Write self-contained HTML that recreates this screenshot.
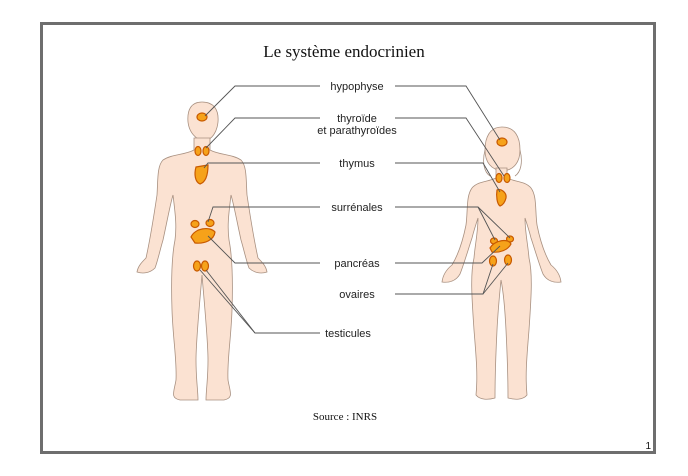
<!DOCTYPE html>
<html><head><meta charset="utf-8"><style>
html,body{margin:0;padding:0;background:#fff;}
svg{display:block;}
</style></head><body>
<svg width="688" height="476" viewBox="0 0 688 476" xmlns="http://www.w3.org/2000/svg">
<rect x="0" y="0" width="688" height="476" fill="#fff"/>
<rect x="41.5" y="23.5" width="613" height="429" fill="#fff" stroke="#6e6e6e" stroke-width="3"/>
<text x="344" y="57" font-family="Liberation Serif, serif" font-size="17" text-anchor="middle" fill="#111">Le système endocrinien</text>

<g fill="#fbe2d2" stroke="#a89080" stroke-width="0.8">
<!-- male -->
<path d="M202,102 C214,102 219,110 218,122 C217,132 212,140 204,141 C196,140 189,132 188,122 C187,110 191,102 202,102 Z"/>
<path d="M194,138 L194,150 C185,155 172,154 163,160 C157,166 158,180 157,195 C154,215 150,240 146,258 C142,262 138,266 137,272 C143,274 150,273 155,268 C158,260 160,250 163,240 C167,222 170,205 173,195 C175,212 177,225 175,240 C172,255 171,280 172,310 C173,340 177,360 176,380 C174,392 170,398 180,400 L198,400 C198,390 196,380 196,360 C196,340 200,300 202,275 C204,300 208,340 208,360 C208,380 206,390 206,400 L224,400 C234,398 230,392 228,380 C227,360 231,340 232,310 C233,280 232,255 229,240 C227,225 229,212 231,195 C234,205 237,222 241,240 C244,250 246,260 249,268 C254,273 261,274 267,272 C266,266 262,262 258,258 C254,240 250,215 247,195 C246,180 247,166 241,160 C232,154 219,155 210,150 L210,138 Z"/>
<!-- female -->
<path d="M502,127 C515,127 520,137 520,150 C520,162 514,170 503,171 C491,170 485,162 485,150 C485,137 490,127 502,127 Z"/>
<path d="M496,168 L496,178 C488,182 478,181 472,188 C466,196 468,210 466,225 C463,240 458,255 452,265 C447,269 443,274 442,282 C449,283 456,281 460,274 C464,264 468,250 472,238 C474,230 476,224 478,218 C478,232 475,245 474,258 C470,275 472,300 474,330 C476,355 478,375 476,395 C480,400 488,400 495,398 C495,380 496,350 497,330 C498,310 500,290 501,280 C503,290 505,310 506,330 C507,350 508,380 508,398 C515,400 523,400 527,395 C525,375 527,355 529,330 C531,300 533,275 529,258 C528,245 525,232 525,218 C527,224 529,230 531,238 C535,250 539,264 543,274 C547,281 554,283 561,282 C560,274 556,269 551,265 C545,255 540,240 537,225 C535,210 537,196 531,188 C525,181 515,182 507,178 L507,168 Z"/>
<path d="M485,150 C482,162 484,172 490,176 M520,150 C523,162 521,172 515,176" fill="none"/>
</g>

<g fill="#f6a21a" stroke="#c85a00" stroke-width="1.2">
<ellipse cx="202" cy="117" rx="5" ry="4"/>
<ellipse cx="198" cy="151" rx="3" ry="4.5"/><ellipse cx="206" cy="151" rx="3" ry="4.5"/>
<path d="M196,167 L208,165 C208,175 206,182 200,184 C195,182 194,174 196,167 Z"/>
<ellipse cx="195" cy="224" rx="4" ry="3.5"/><ellipse cx="210" cy="223" rx="4" ry="3.5"/>
<path d="M191,237 C195,228 210,226 215,232 C214,240 205,244 195,243 Z"/>
<ellipse cx="197" cy="266" rx="3.5" ry="5"/><ellipse cx="205" cy="266" rx="3.5" ry="5"/>
<ellipse cx="502" cy="142" rx="5" ry="4"/>
<ellipse cx="499" cy="178" rx="3" ry="4.5"/><ellipse cx="507" cy="178" rx="3" ry="4.5"/>
<path d="M497,190 C500,188 507,192 506,198 C505,202 503,205 500,206 C497,204 496,196 497,190 Z"/>
<ellipse cx="494" cy="241" rx="3.5" ry="3"/><ellipse cx="510" cy="239" rx="3.5" ry="3"/>
<path d="M490,248 C495,240 508,238 511,244 C508,250 500,253 492,252 Z"/>
<ellipse cx="493" cy="261" rx="3.5" ry="5"/><ellipse cx="508" cy="260" rx="3.5" ry="5"/>
</g>

<g stroke="#555" stroke-width="0.9" fill="none">
<polyline points="320,86 235,86 205,116"/>
<polyline points="395,86 466,86 500,140"/>
<polyline points="320,118 235,118 206,148"/>
<polyline points="395,118 466,118 504,176"/>
<polyline points="320,163 208,163 204,168"/>
<polyline points="395,163 483,163 500,192"/>
<polyline points="320,207 213,207 208,222"/>
<polyline points="395,207 478,207 510,238"/>
<polyline points="478,207 495,240"/>
<polyline points="320,263 235,263 208,236"/>
<polyline points="395,263 482,263 500,246"/>
<polyline points="395,294 483,294 493,264"/>
<polyline points="483,294 508,263"/>
<polyline points="320,333 255,333 200,270"/>
<polyline points="255,333 206,270"/>
</g>

<g font-family="Liberation Sans, sans-serif" font-size="11" fill="#222" text-anchor="middle">
<text x="357" y="90">hypophyse</text>
<text x="357" y="122">thyroïde</text>
<text x="357" y="134">et parathyroïdes</text>
<text x="357" y="167">thymus</text>
<text x="357" y="211">surrénales</text>
<text x="357" y="267">pancréas</text>
<text x="357" y="298">ovaires</text>
<text x="348" y="337">testicules</text>
</g>
<text x="345" y="420" font-family="Liberation Serif, serif" font-size="11" text-anchor="middle" fill="#111">Source : INRS</text>
<text x="651" y="449" font-family="Liberation Sans, sans-serif" font-size="10" text-anchor="end" fill="#111">1</text>
</svg>
</body></html>
